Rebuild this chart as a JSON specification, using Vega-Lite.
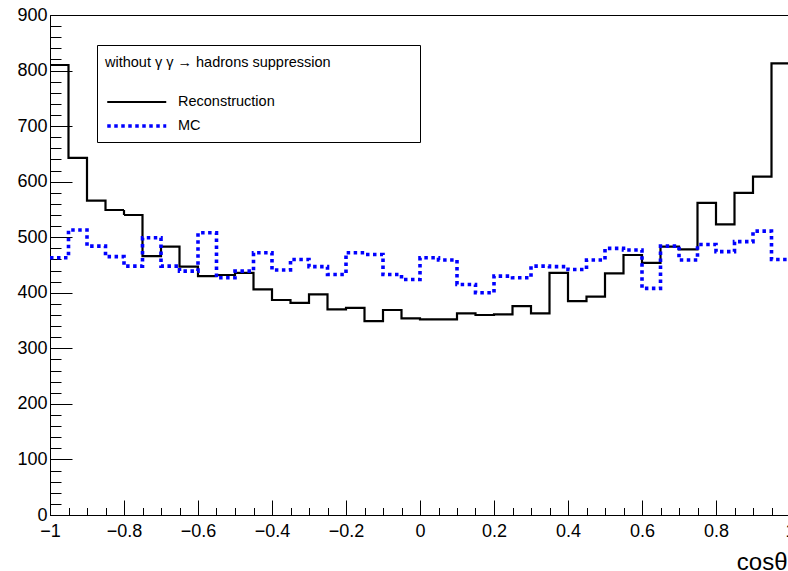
{
  "$schema": "https://vega.github.io/schema/vega-lite/v6.json",
  "width": 740,
  "height": 500,
  "autosize": {"type": "none"},
  "padding": {"left": 50, "top": 15, "right": 0, "bottom": 56},
  "background": "white",
  "config": {
    "view": {"stroke": "black", "strokeWidth": 1},
    "font": "Liberation Sans"
  },
  "data": {
    "values": [
      {"x": -1, "series": "Reconstruction", "n": 810},
      {"x": -0.95, "series": "Reconstruction", "n": 643},
      {"x": -0.9, "series": "Reconstruction", "n": 566},
      {"x": -0.85, "series": "Reconstruction", "n": 549},
      {"x": -0.8, "series": "Reconstruction", "n": 540},
      {"x": -0.75, "series": "Reconstruction", "n": 466},
      {"x": -0.7, "series": "Reconstruction", "n": 483},
      {"x": -0.65, "series": "Reconstruction", "n": 447},
      {"x": -0.6, "series": "Reconstruction", "n": 430},
      {"x": -0.55, "series": "Reconstruction", "n": 432},
      {"x": -0.5, "series": "Reconstruction", "n": 436},
      {"x": -0.45, "series": "Reconstruction", "n": 406},
      {"x": -0.4, "series": "Reconstruction", "n": 387},
      {"x": -0.35, "series": "Reconstruction", "n": 382},
      {"x": -0.3, "series": "Reconstruction", "n": 397},
      {"x": -0.25, "series": "Reconstruction", "n": 370},
      {"x": -0.2, "series": "Reconstruction", "n": 373},
      {"x": -0.15, "series": "Reconstruction", "n": 349},
      {"x": -0.1, "series": "Reconstruction", "n": 369},
      {"x": -0.05, "series": "Reconstruction", "n": 354},
      {"x": 0, "series": "Reconstruction", "n": 352},
      {"x": 0.05, "series": "Reconstruction", "n": 352},
      {"x": 0.1, "series": "Reconstruction", "n": 363},
      {"x": 0.15, "series": "Reconstruction", "n": 360},
      {"x": 0.2, "series": "Reconstruction", "n": 361},
      {"x": 0.25, "series": "Reconstruction", "n": 376},
      {"x": 0.3, "series": "Reconstruction", "n": 363},
      {"x": 0.35, "series": "Reconstruction", "n": 436},
      {"x": 0.4, "series": "Reconstruction", "n": 385},
      {"x": 0.45, "series": "Reconstruction", "n": 393},
      {"x": 0.5, "series": "Reconstruction", "n": 435},
      {"x": 0.55, "series": "Reconstruction", "n": 468},
      {"x": 0.6, "series": "Reconstruction", "n": 454},
      {"x": 0.65, "series": "Reconstruction", "n": 483},
      {"x": 0.7, "series": "Reconstruction", "n": 478},
      {"x": 0.75, "series": "Reconstruction", "n": 562},
      {"x": 0.8, "series": "Reconstruction", "n": 523},
      {"x": 0.85, "series": "Reconstruction", "n": 580},
      {"x": 0.9, "series": "Reconstruction", "n": 609},
      {"x": 0.95, "series": "Reconstruction", "n": 813},
      {"x": 1, "series": "Reconstruction", "n": 813},
      {"x": -1, "series": "MC", "n": 463},
      {"x": -0.95, "series": "MC", "n": 513},
      {"x": -0.9, "series": "MC", "n": 484},
      {"x": -0.85, "series": "MC", "n": 465},
      {"x": -0.8, "series": "MC", "n": 448},
      {"x": -0.75, "series": "MC", "n": 499},
      {"x": -0.7, "series": "MC", "n": 448},
      {"x": -0.65, "series": "MC", "n": 439},
      {"x": -0.6, "series": "MC", "n": 508},
      {"x": -0.55, "series": "MC", "n": 427},
      {"x": -0.5, "series": "MC", "n": 439},
      {"x": -0.45, "series": "MC", "n": 472},
      {"x": -0.4, "series": "MC", "n": 441},
      {"x": -0.35, "series": "MC", "n": 460},
      {"x": -0.3, "series": "MC", "n": 447},
      {"x": -0.25, "series": "MC", "n": 433},
      {"x": -0.2, "series": "MC", "n": 472},
      {"x": -0.15, "series": "MC", "n": 469},
      {"x": -0.1, "series": "MC", "n": 433},
      {"x": -0.05, "series": "MC", "n": 424},
      {"x": 0, "series": "MC", "n": 463},
      {"x": 0.05, "series": "MC", "n": 459},
      {"x": 0.1, "series": "MC", "n": 415},
      {"x": 0.15, "series": "MC", "n": 400},
      {"x": 0.2, "series": "MC", "n": 430},
      {"x": 0.25, "series": "MC", "n": 427},
      {"x": 0.3, "series": "MC", "n": 448},
      {"x": 0.35, "series": "MC", "n": 447},
      {"x": 0.4, "series": "MC", "n": 442},
      {"x": 0.45, "series": "MC", "n": 459},
      {"x": 0.5, "series": "MC", "n": 480},
      {"x": 0.55, "series": "MC", "n": 477},
      {"x": 0.6, "series": "MC", "n": 408},
      {"x": 0.65, "series": "MC", "n": 484},
      {"x": 0.7, "series": "MC", "n": 459},
      {"x": 0.75, "series": "MC", "n": 487},
      {"x": 0.8, "series": "MC", "n": 474},
      {"x": 0.85, "series": "MC", "n": 492},
      {"x": 0.9, "series": "MC", "n": 511},
      {"x": 0.95, "series": "MC", "n": 460},
      {"x": 1, "series": "MC", "n": 460}
    ]
  },
  "mark": {"type": "line", "interpolate": "step-after", "clip": false},
  "encoding": {
    "x": {
      "field": "x",
      "type": "quantitative",
      "scale": {"domain": [-1, 1], "nice": false, "zero": false},
      "axis": {
        "title": "cosθ",
        "values": [-1, -0.95, -0.9, -0.85, -0.8, -0.75, -0.7, -0.65, -0.6, -0.55, -0.5, -0.45, -0.4, -0.35, -0.3, -0.25, -0.2, -0.15, -0.1, -0.05, 0, 0.05, 0.1, 0.15, 0.2, 0.25, 0.3, 0.35, 0.4, 0.45, 0.5, 0.55, 0.6, 0.65, 0.7, 0.75, 0.8, 0.85, 0.9, 0.95, 1],
        "labelExpr": "abs(datum.value*5 - round(datum.value*5)) < 0.001 ? format(datum.value, '~g') : ''",
        "tickSize": {"condition": {"test": "abs(datum.value*5 - round(datum.value*5)) < 0.001", "value": -15}, "value": -7.5},
        "tickColor": "black",
        "tickWidth": 1,
        "domainColor": "black",
        "domainWidth": 1,
        "grid": false,
        "labelFontSize": 18,
        "labelColor": "black",
        "labelPadding": 22,
        "labelFlush": false,
        "labelOverlap": false,
        "labelBound": false,
        "titleFontSize": 24,
        "titleFontWeight": "normal",
        "titleColor": "black",
        "titleAnchor": "end",
        "titleAlign": "right",
        "titleBaseline": "alphabetic",
        "titleX": 737,
        "titleY": 54
      }
    },
    "y": {
      "field": "n",
      "type": "quantitative",
      "scale": {"domain": [0, 900], "nice": false},
      "axis": {
        "title": null,
        "values": [0, 20, 40, 60, 80, 100, 120, 140, 160, 180, 200, 220, 240, 260, 280, 300, 320, 340, 360, 380, 400, 420, 440, 460, 480, 500, 520, 540, 560, 580, 600, 620, 640, 660, 680, 700, 720, 740, 760, 780, 800, 820, 840, 860, 880, 900],
        "labelExpr": "datum.value % 100 === 0 ? datum.value : ''",
        "tickSize": {"condition": {"test": "datum.value % 100 === 0", "value": -22}, "value": -11},
        "tickColor": "black",
        "tickWidth": 1,
        "domainColor": "black",
        "domainWidth": 1,
        "grid": false,
        "labelFontSize": 18,
        "labelColor": "black",
        "labelPadding": 25,
        "labelOverlap": false,
        "labelBound": false,
        "labelFlush": false
      }
    },
    "color": {
      "field": "series",
      "type": "nominal",
      "scale": {"domain": ["Reconstruction", "MC"], "range": ["#000000", "#0000ff"]},
      "legend": {
        "title": "without γ γ → hadrons suppression\u00a0\u00a0\u00a0\u00a0\u00a0\u00a0\u00a0\u00a0\u00a0\u00a0\u00a0\u00a0\u00a0\u00a0\u00a0\u00a0\u00a0\u00a0\u00a0\u00a0\u200b",
        "orient": "none",
        "legendX": 47,
        "legendY": 30,
        "strokeColor": "black",
        "fillColor": "white",
        "padding": 8,
        "cornerRadius": 0,
        "symbolType": "M-1,0H3",
        "symbolSize": 870,
        "symbolStrokeWidth": 2.5,
        "labelFontSize": 14.5,
        "labelColor": "black",
        "labelOffset": 39,
        "labelLimit": 300,
        "titleFontSize": 14.5,
        "titleFontWeight": "normal",
        "titleColor": "black",
        "titleLimit": 500,
        "titlePadding": 18.5,
        "rowPadding": -1,
        "encode": {"title": {"update": {"dy": {"value": 3}}}}
      }
    },
    "strokeDash": {
      "field": "series",
      "type": "nominal",
      "scale": {"domain": ["Reconstruction", "MC"], "range": [[1, 0], [3.5, 3.5]]},
      "legend": {
        "title": "without γ γ → hadrons suppression\u00a0\u00a0\u00a0\u00a0\u00a0\u00a0\u00a0\u00a0\u00a0\u00a0\u00a0\u00a0\u00a0\u00a0\u00a0\u00a0\u00a0\u00a0\u00a0\u00a0\u200b",
        "orient": "none",
        "legendX": 47,
        "legendY": 30,
        "strokeColor": "black",
        "fillColor": "white",
        "padding": 8,
        "cornerRadius": 0,
        "symbolType": "M-1,0H3",
        "symbolSize": 870,
        "symbolStrokeWidth": 2.5,
        "labelFontSize": 14.5,
        "labelColor": "black",
        "labelOffset": 39,
        "labelLimit": 300,
        "titleFontSize": 14.5,
        "titleFontWeight": "normal",
        "titleColor": "black",
        "titleLimit": 500,
        "titlePadding": 18.5,
        "rowPadding": -1,
        "encode": {"title": {"update": {"dy": {"value": 3}}}}
      }
    },
    "strokeWidth": {
      "field": "series",
      "type": "nominal",
      "scale": {"domain": ["Reconstruction", "MC"], "range": [2.2, 3.6]},
      "legend": null
    }
  }
}
